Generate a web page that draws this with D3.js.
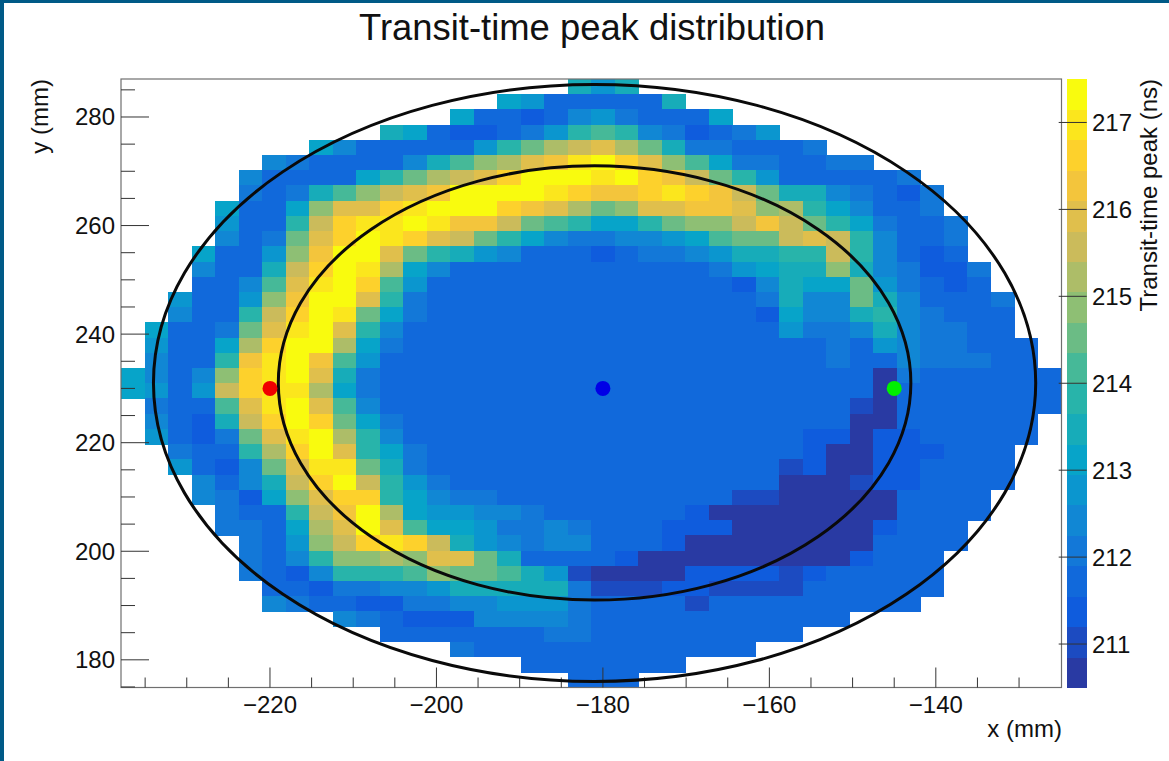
<!DOCTYPE html>
<html><head><meta charset="utf-8">
<script src="https://cdn.jsdelivr.net/npm/d3@7"></script>
<style>html,body{margin:0;padding:0;background:#fff;overflow:hidden}svg{display:block}text{font-family:"Liberation Sans",Arial,sans-serif;fill:#111}</style>
</head><body><div id="chart"></div>
<script>
const chartTitle = "Transit-time peak distribution";
const xTitle = "x (mm)", yTitle = "y (mm)", zTitle = "Transit-time peak (ns)";
const xDomain = [-237.9, -124.9], yDomain = [174.9, 287.0], zDomain = [210.5, 217.5];
const binCount = 40, contourCount = 20;
const xMajor = [-220, -200, -180, -160, -140];
const yMajor = [180, 200, 220, 240, 260, 280];
const xMinor = [-235, -230, -225, -215, -210, -205, -195, -190, -185, -175, -170, -165, -155, -150, -145, -135, -130];
const yMinor = [175, 185, 190, 195, 205, 210, 215, 225, 230, 235, 245, 250, 255, 265, 270, 275, 285];
const zTicks = [211, 212, 213, 214, 215, 216, 217];
const ellipses = [
  {cx: -181, cy: 231, rx: 53, ry: 55},
  {cx: -181, cy: 231, rx: 38, ry: 40}
];
const markers = [
  {x: -220, y: 230, color: "#f00000"},
  {x: -180, y: 230, color: "#0000e6"},
  {x: -145, y: 230, color: "#00f000"}
];
// first filled x-bin of each row, top row first
const firstBin = [19,16,14,11,8,6,5,5,4,4,4,3,3,3,2,2,1,1,1,0,0,1,1,1,2,2,3,3,4,4,5,5,5,6,6,9,11,14,17,19];
// transit-time peak (ns) of each filled bin, top row first
const peakRows = [
[213.5,212.8,213.5],
[213.1,212.8,211.7,211.7,211.7,211.7,211.7,213.5],
[213.1,211.7,211.7,211.4,211.7,212.4,212.8,212.1,211.7,211.7,211.7,213.1],
[213.5,213.1,211.7,211.4,211.4,211.7,212.1,212.8,213.8,214.2,213.8,212.4,212.1,211.4,211.7,212.1,212.8],
[213.1,212.4,211.7,211.7,211.7,211.7,211.7,212.8,213.8,214.5,215.2,215.6,215.9,215.2,214.5,213.5,212.1,212.1,211.7,211.7,211.7,212.1],
[212.4,212.1,211.7,211.7,211.7,211.7,212.4,213.5,214.2,214.9,215.2,215.9,216.3,217.0,217.3,216.6,215.9,214.9,214.2,213.1,212.1,212.1,211.7,211.7,212.1,212.1],
[212.4,211.7,211.7,211.7,211.7,213.1,213.8,214.5,215.2,215.6,215.9,216.6,217.3,217.3,217.3,217.0,217.3,216.6,216.3,215.6,214.5,213.8,212.8,211.7,211.7,211.7,211.7,211.7,212.1],
[212.1,211.7,212.1,213.5,214.2,214.9,215.6,215.9,216.3,217.3,217.3,217.3,217.3,217.0,216.6,216.3,216.3,216.6,217.0,216.6,216.3,215.6,214.5,213.5,213.5,212.4,212.1,211.7,211.4,212.1],
[213.1,211.7,211.7,213.1,214.9,215.9,215.9,216.6,217.0,217.3,217.3,217.3,216.6,216.3,215.9,215.2,214.5,214.9,215.9,215.9,216.3,216.3,215.9,214.9,215.2,213.8,213.1,212.4,211.7,211.7,212.1],
[212.8,211.7,211.7,213.8,215.6,216.6,217.0,217.0,217.3,217.0,216.3,216.3,215.6,214.5,214.2,213.8,213.1,213.1,213.8,214.5,214.9,214.9,215.6,216.3,215.6,214.5,213.8,213.1,212.1,211.7,211.7,212.1],
[212.4,211.7,212.1,214.5,215.9,216.6,217.3,217.0,216.6,215.9,215.6,214.5,213.8,213.1,212.4,212.1,212.1,212.4,212.4,212.8,213.1,214.2,214.5,214.5,215.6,215.9,215.6,213.8,212.4,211.7,211.7,212.1],
[213.1,211.7,211.7,212.8,214.9,216.3,217.3,217.3,215.9,214.5,213.8,213.5,212.8,212.4,211.7,211.7,211.7,211.4,211.7,212.1,212.1,212.4,212.8,213.5,213.5,213.8,213.8,215.6,213.8,212.4,211.7,211.4,211.7],
[212.4,211.7,211.7,213.5,215.6,216.6,217.3,217.0,215.2,213.1,212.4,211.7,211.7,211.7,211.7,211.7,211.7,211.7,211.7,211.7,211.7,211.7,212.1,212.8,213.1,213.5,213.5,214.9,213.5,212.4,212.1,211.4,211.4,212.1],
[211.7,211.7,212.4,214.2,215.9,217.0,217.3,216.6,214.2,212.8,211.7,211.7,211.7,211.7,211.7,211.7,211.7,211.7,211.7,211.7,211.7,211.7,211.7,211.4,212.4,213.5,213.1,213.1,214.5,212.8,212.1,211.7,211.4,211.7],
[212.8,211.7,211.7,212.8,214.9,216.3,217.3,217.3,215.9,213.8,212.1,211.7,211.7,211.7,211.7,211.7,211.7,211.7,211.7,211.7,211.7,211.7,211.7,211.7,211.7,212.1,213.5,212.4,212.4,214.5,213.5,212.4,211.7,211.7,211.7,212.1],
[212.4,211.7,211.7,213.8,215.6,216.6,217.3,217.0,214.5,213.1,212.1,211.7,211.7,211.7,211.7,211.7,211.7,211.7,211.7,211.7,211.7,211.7,211.7,211.7,211.7,211.4,213.1,212.4,212.4,213.5,213.8,212.4,212.1,211.7,211.7,211.7],
[213.1,211.7,211.7,212.1,214.5,215.9,217.0,217.3,215.9,213.8,212.4,211.7,211.7,211.7,211.7,211.7,211.7,211.7,211.7,211.7,211.7,211.7,211.7,211.7,211.7,211.7,211.7,212.8,212.1,212.1,212.4,213.5,212.4,212.1,212.1,211.7,211.7],
[212.8,211.7,211.7,213.1,215.2,216.6,217.3,217.3,215.2,213.1,212.1,211.7,211.7,211.7,211.7,211.7,211.7,211.7,211.7,211.7,211.7,211.7,211.7,211.7,211.7,211.7,211.7,211.7,211.7,212.1,211.7,212.8,212.4,212.1,212.1,211.7,211.7,211.7],
[212.4,211.7,211.7,213.8,216.3,217.0,217.3,216.3,214.2,212.8,211.7,211.7,211.7,211.7,211.7,211.7,211.7,211.7,211.7,211.7,211.7,211.7,211.7,211.7,211.7,211.7,211.7,211.7,211.7,212.1,211.7,211.7,212.4,212.1,212.1,212.1,211.7,211.7],
[213.1,212.4,211.7,212.4,214.9,216.6,217.0,217.3,215.9,213.5,212.1,211.7,211.7,211.7,211.7,211.7,211.7,211.7,211.7,211.7,211.7,211.7,211.7,211.7,211.7,211.7,211.7,211.7,211.7,211.7,211.7,211.7,210.7,212.1,211.7,211.7,211.7,211.7,211.7,211.7],
[213.1,212.8,211.7,212.8,215.6,216.6,217.0,217.0,215.2,213.1,212.1,211.7,211.7,211.7,211.7,211.7,211.7,211.7,211.7,211.7,211.7,211.7,211.7,211.7,211.7,211.7,211.7,211.7,211.7,211.7,211.7,211.7,210.7,211.7,211.7,211.7,211.7,211.7,211.7,211.7],
[212.1,211.7,211.7,214.2,215.9,217.0,217.3,215.9,214.2,212.4,211.7,211.7,211.7,211.7,211.7,211.7,211.7,211.7,211.7,211.7,211.7,211.7,211.7,211.7,211.7,211.7,211.7,211.7,211.7,211.7,211.0,210.7,211.7,211.7,211.7,211.7,211.7,211.7,211.7],
[212.4,211.7,211.4,213.5,215.6,216.6,217.3,216.6,214.5,213.1,212.1,211.7,211.7,211.7,211.7,211.7,211.7,211.7,211.7,211.7,211.7,211.7,211.7,211.7,211.7,211.7,211.7,211.7,211.7,211.7,210.7,210.7,211.7,211.7,211.7,211.7,211.7,211.7],
[212.8,211.7,211.4,212.1,214.5,215.9,217.0,217.3,215.2,213.8,212.4,211.7,211.7,211.7,211.7,211.7,211.7,211.7,211.7,211.7,211.7,211.7,211.7,211.7,211.7,211.7,211.7,211.7,211.4,211.4,210.7,211.4,211.4,211.7,211.7,211.7,211.7,211.7],
[212.1,211.7,211.7,213.8,215.2,216.6,217.3,215.9,213.8,213.1,212.1,211.7,211.7,211.7,211.7,211.7,211.7,211.7,211.7,211.7,211.7,211.7,211.7,211.7,211.7,211.7,211.7,211.4,210.7,210.7,211.4,211.4,211.4,211.7,211.7,211.7],
[212.8,211.7,211.4,212.4,214.5,215.9,217.0,217.0,214.5,213.5,212.1,211.7,211.7,211.7,211.7,211.7,211.7,211.7,211.7,211.7,211.7,211.7,211.7,211.7,211.7,211.7,211.0,211.4,210.7,210.7,211.4,211.4,211.7,211.7,211.7,211.7],
[212.4,211.7,212.4,213.5,215.6,216.6,217.3,215.6,213.8,212.8,212.1,211.7,211.7,211.7,211.7,211.7,211.7,211.7,211.7,211.7,211.7,211.7,211.7,211.7,211.7,210.7,210.7,210.7,211.0,211.4,211.4,211.7,211.7,211.7,211.7],
[212.4,212.1,211.4,213.1,214.9,215.9,216.6,216.6,213.8,213.1,212.4,212.1,212.1,211.7,211.7,211.7,211.7,211.7,211.7,211.7,211.7,211.7,211.7,211.0,211.0,210.7,210.7,210.7,210.7,210.7,211.7,211.7,211.7,211.7],
[212.1,211.7,211.7,213.8,215.6,216.3,217.3,215.2,213.1,212.8,212.8,212.4,212.4,212.1,211.7,211.7,211.7,211.7,211.7,211.7,211.4,210.7,210.7,210.7,210.7,210.7,210.7,210.7,210.7,211.7,211.7,211.7,211.7],
[212.1,212.1,211.7,213.1,215.2,215.9,217.3,215.9,214.2,213.1,213.1,212.8,212.1,212.1,212.4,212.1,211.7,211.7,211.7,211.4,211.4,211.4,210.7,210.7,210.7,210.7,210.7,210.7,211.4,211.7,211.7,211.7],
[212.1,211.7,212.8,214.9,215.6,216.6,217.0,216.6,215.6,213.5,212.8,212.4,212.1,212.4,212.4,211.7,211.7,211.7,211.4,210.7,210.7,210.7,210.7,210.7,210.7,210.7,210.7,211.7,211.7,211.7,211.7],
[212.1,211.7,212.4,213.8,214.9,214.9,215.2,214.9,215.9,215.9,214.5,213.5,211.7,211.7,211.7,211.7,211.4,210.7,210.7,210.7,210.7,210.7,210.7,210.7,210.7,210.7,211.4,211.7,211.7,211.7],
[212.1,211.7,211.4,212.4,213.8,213.8,213.8,214.2,214.9,214.5,214.5,214.2,213.5,212.8,211.0,210.7,210.7,210.7,210.7,211.4,211.4,211.4,211.4,211.0,211.4,211.7,211.7,211.7,211.7,211.7],
[211.7,211.7,211.4,212.1,212.1,212.4,212.4,212.8,213.5,213.5,213.5,213.5,213.5,212.1,211.0,211.0,211.0,211.4,211.4,211.0,211.0,211.0,211.0,211.7,211.7,211.7,211.7,211.7,211.7],
[212.4,212.1,211.7,211.7,211.4,211.4,212.1,212.1,212.4,212.4,212.8,212.8,212.8,212.1,211.7,211.7,211.7,211.7,211.0,211.7,211.7,211.7,211.7,211.7,211.7,211.7,211.7,211.7],
[212.4,212.1,211.7,211.4,211.4,211.4,212.4,212.4,212.4,212.4,212.1,211.7,211.7,211.7,211.7,211.7,211.7,211.7,211.7,211.7,211.7,211.7],
[211.7,211.7,211.7,211.7,211.7,211.7,211.7,212.1,212.1,211.7,211.7,211.7,211.7,211.7,211.7,211.7,211.7,211.7],
[212.1,211.7,211.7,211.7,211.7,211.7,211.7,211.7,211.7,211.7,211.7,211.7,211.7],
[211.7,211.7,211.7,211.7,211.7,211.7,211.7],
[211.7,211.7,211.7]
];
// ROOT "bird" palette stops
const birdStops = [0, .125, .25, .375, .5, .625, .75, .875, 1];
const birdRGB = [[.2082,.1664,.5293],[.0592,.3599,.8684],[.078,.5041,.8385],[.0232,.6419,.7914],[.1802,.7178,.6425],[.5301,.7492,.4662],[.8186,.7328,.3499],[.9956,.7862,.1968],[.9764,.9832,.0539]];

const W = 1169, H = 761;
const frame = {l: 121, t: 79, r: 1061.5, b: 687.5};
const barX = [1067.3, 1086.7];
const svg = d3.select("#chart").append("svg").attr("width", W).attr("height", H);
svg.append("rect").attr("width", W).attr("height", H).attr("fill", "#fff");
svg.append("path").attr("d", `M0 0H${W}V3H4V${H}H0Z`).attr("fill", "#005a87");

const x = d3.scaleLinear().domain(xDomain).range([frame.l, frame.r]);
const y = d3.scaleLinear().domain(yDomain).range([frame.b, frame.t]);
const zY = d3.scaleLinear().domain(zDomain).range([frame.b, frame.t]);
const binW = (xDomain[1] - xDomain[0]) / binCount, binH = (yDomain[1] - yDomain[0]) / binCount;
const bird = d3.scaleLinear().domain(birdStops).range(birdRGB.map(c => d3.rgb(c[0]*255, c[1]*255, c[2]*255)));
const levelT = d3.scaleLinear().domain([0, 3, contourCount - 1]).range([.04, .17, 1]);
const levelOf = v => Math.min(contourCount - 1, Math.max(0, Math.floor((v - zDomain[0]) / (zDomain[1] - zDomain[0]) * contourCount)));
const colorOf = v => bird(levelT(levelOf(v)));

const cells = peakRows.flatMap((row, r) => row.map((v, i) => ({r, c: firstBin[r] + i, v})));
svg.append("g").attr("shape-rendering", "crispEdges").selectAll("rect").data(cells).join("rect")
  .attr("x", d => x(xDomain[0] + d.c * binW))
  .attr("width", x(xDomain[0] + binW) - x(xDomain[0]) + .4)
  .attr("y", d => y(yDomain[1] - d.r * binH))
  .attr("height", y(yDomain[0]) - y(yDomain[0] + binH) + .4)
  .attr("fill", d => colorOf(d.v));

const levels = d3.range(contourCount);
svg.append("g").attr("shape-rendering", "crispEdges").selectAll("rect").data(levels).join("rect")
  .attr("x", barX[0]).attr("width", barX[1] - barX[0])
  .attr("y", i => zY(zDomain[0] + (i + 1) * (zDomain[1] - zDomain[0]) / contourCount))
  .attr("height", (frame.b - frame.t) / contourCount + .5)
  .attr("fill", i => bird(levelT(i)));

const grey = "#6f6f6f";
svg.append("rect").attr("x", frame.l).attr("y", frame.t).attr("width", frame.r - frame.l).attr("height", frame.b - frame.t)
  .attr("fill", "none").attr("stroke", grey).attr("stroke-width", 1.2);

const tickG = svg.append("g").attr("stroke", "#333").attr("stroke-width", 1);
tickG.selectAll(".xmaj").data(xMajor).join("line").attr("x1", x).attr("x2", x).attr("y1", frame.b).attr("y2", frame.b - 20);
tickG.selectAll(".xmin").data(xMinor).join("line").attr("x1", x).attr("x2", x).attr("y1", frame.b).attr("y2", frame.b - 10);
tickG.selectAll(".ymaj").data(yMajor).join("line").attr("y1", y).attr("y2", y).attr("x1", frame.l).attr("x2", frame.l + 28);
tickG.selectAll(".ymin").data(yMinor).join("line").attr("y1", y).attr("y2", y).attr("x1", frame.l).attr("x2", frame.l + 14);
tickG.selectAll(".ztick").data(zTicks).join("line").attr("y1", zY).attr("y2", zY).attr("x1", barX[1]).attr("x2", barX[1] - 28);

const sx = (frame.r - frame.l) / (xDomain[1] - xDomain[0]), sy = (frame.b - frame.t) / (yDomain[1] - yDomain[0]);
svg.append("g").selectAll("ellipse").data(ellipses).join("ellipse")
  .attr("cx", d => x(d.cx)).attr("cy", d => y(d.cy)).attr("rx", d => d.rx * sx).attr("ry", d => d.ry * sy)
  .attr("fill", "none").attr("stroke", "#0a0a0a").attr("stroke-width", 3);
svg.append("g").selectAll("circle").data(markers).join("circle")
  .attr("cx", d => x(d.x)).attr("cy", d => y(d.y)).attr("r", 7.5).attr("fill", d => d.color);

const fmt = v => String(v).replace("-", "\u2212");
svg.append("text").attr("x", 592).attr("y", 40).attr("text-anchor", "middle").attr("font-size", 36.4).text(chartTitle);
svg.append("g").selectAll("text").data(xMajor).join("text").attr("font-size", 24)
  .attr("x", v => x(v)).attr("y", 712.5).attr("text-anchor", "middle").text(fmt);
svg.append("g").selectAll("text").data(yMajor).join("text").attr("font-size", 24)
  .attr("x", 115).attr("y", v => y(v) + 8.5).attr("text-anchor", "end").text(fmt);
svg.append("g").selectAll("text").data(zTicks).join("text").attr("font-size", 24)
  .attr("x", 1092).attr("y", v => zY(v) + 8.5).text(fmt);
svg.append("text").attr("x", 1062).attr("y", 737).attr("text-anchor", "end").attr("font-size", 24).text(xTitle);
svg.append("text").attr("transform", "translate(48,79) rotate(-90)").attr("text-anchor", "end").attr("font-size", 24).text(yTitle);
svg.append("text").attr("transform", "translate(1157,79) rotate(-90)").attr("text-anchor", "end").attr("font-size", 24).text(zTitle);
</script></body></html>
